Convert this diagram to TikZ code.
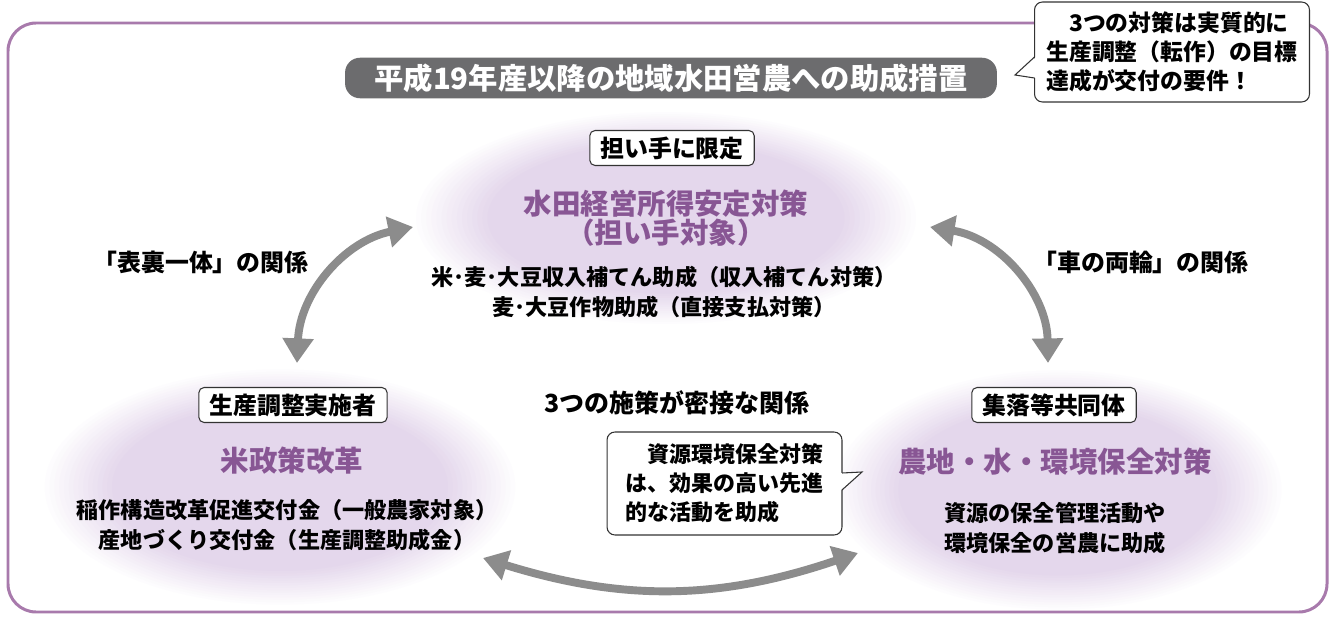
\documentclass[tikz,border=0pt]{standalone}
\usepackage{fontspec}
\setmainfont{Noto Sans CJK JP}
\usetikzlibrary{arrows.meta, positioning}
\definecolor{frameC}{RGB}{168,122,172}
\definecolor{blobC}{RGB}{228,215,236}
\definecolor{titleC}{RGB}{136,86,148}
\definecolor{pillC}{RGB}{108,108,110}
\definecolor{arrowC}{RGB}{140,140,140}
\newcommand{\softblob}[3]{\foreach \i in {0,...,15}{\pgfmathsetmacro\p{\i*100/15}\pgfmathsetmacro\f{1-0.02*\i}\fill[blobC!\p!white] #1 ellipse [x radius=\f*#2, y radius=\f*#3];}}

\begin{document}
\begin{tikzpicture}[x=0.02cm, y=-0.02cm,
  tag/.style={draw=black!80, fill=white, rounded corners=3pt, line width=0.6pt, inner xsep=6pt, minimum height=0.7cm, font=\fontsize{13.6}{14}\selectfont\bfseries},
  ttl/.style={text=titleC, align=center, font=\fontsize{16.2}{16.4}\selectfont\bfseries},
  txt/.style={align=center, font=\fontsize{12.6}{17}\selectfont\bfseries},
  lbl/.style={font=\fontsize{13.6}{14}\selectfont\bfseries},
  note/.style={draw=black!80, fill=white, rounded corners=4.5pt, line width=0.6pt, align=left},
  garrow/.style={draw=arrowC, line width=4.5pt, {Triangle[length=14pt,width=17pt]}-{Triangle[length=14pt,width=17pt]}}]
  \useasboundingbox[fill=white] (0,0) rectangle (1333,618);

  \coordinate (topC) at (666,218);
  \coordinate (lfC) at (280,487);
  \coordinate (rtC) at (1058,490);
  \softblob{(topC)}{255}{108}
  \softblob{(lfC)}{240}{120}
  \softblob{(rtC)}{228}{122}
  \draw[frameC, line width=1.7pt, rounded corners=16pt] (8,23) rectangle (1327,612);

  \node[fill=pillC, rounded corners=8.5pt, minimum width=13.04cm, minimum height=0.62cm, text=white, font=\fontsize{16.7}{17}\selectfont\bfseries] (head) at (671,78) {平成19年産以降の地域水田営農への助成措置};

  \node[tag] (topTag) at (672,148) {担い手に限定};
  \node[ttl] (topTtl) at (666,218) {水田経営所得安定対策\\（担い手対象）};
  \node[txt] (topTxt) at (664,292) {米･麦･大豆収入補てん助成（収入補てん対策）\\麦･大豆作物助成（直接支払対策）};

  \node[tag] (lfTag) at (293,405) {生産調整実施者};
  \node[ttl] (lfTtl) at (292,461) {米政策改革};
  \node[txt] (lfTxt) at (287,525) {稲作構造改革促進交付金（一般農家対象）\\産地づくり交付金（生産調整助成金）};

  \node[tag] (rtTag) at (1054,405) {集落等共同体};
  \node[ttl] (rtTtl) at (1055,462) {農地・水・環境保全対策};
  \node[txt] (rtTxt) at (1055,528) {資源の保全管理活動や\\環境保全の営農に助成};

  \node[lbl] (lfLbl) at (201,262) {「表裏一体」の関係};
  \node[lbl] (rtLbl) at (1141,262) {「車の両輪」の関係};
  \node[lbl, font=\fontsize{14.2}{15}\selectfont\bfseries] (midLbl) at (677,403) {3つの施策が密接な関係};

  \coordinate (lfA) at (297,363);
  \coordinate (lfB) at (413,227);
  \coordinate (rtA) at (930,227);
  \coordinate (rtB) at (1048,363);
  \coordinate (btA) at (483,558);
  \coordinate (btB) at (858,553);
  \draw[garrow] (lfA) to[bend left=38] (lfB);
  \draw[garrow] (rtA) to[bend left=40] (rtB);
  \draw[garrow] (btA) to[bend right=18] (btB);

  \node[note, minimum width=4.7cm, minimum height=2.06cm, font=\fontsize{12.5}{16.4}\selectfont\bfseries] (srcNote) at (724.5,483.5) {　資源環境保全対策\\は、効果の高い先進\\的な活動を助成};
  \fill[white] (841,473) -- (862,472) -- (841,490) -- cycle;
  \draw[black!80, line width=0.6pt] (842,473) -- (862,472) -- (842,490);

  \node[note, minimum width=5.5cm, minimum height=2cm, font=\fontsize{13}{16.4}\selectfont\bfseries] (goalNote) at (1172,52) {　3つの対策は実質的に\\生産調整（転作）の目標\\達成が交付の要件！};
  \fill[white] (1036,57) -- (1015,75) -- (1036,78) -- cycle;
  \draw[black!80, line width=0.6pt] (1034.5,57) -- (1015,75) -- (1034.5,78);
\end{tikzpicture}
\end{document}
